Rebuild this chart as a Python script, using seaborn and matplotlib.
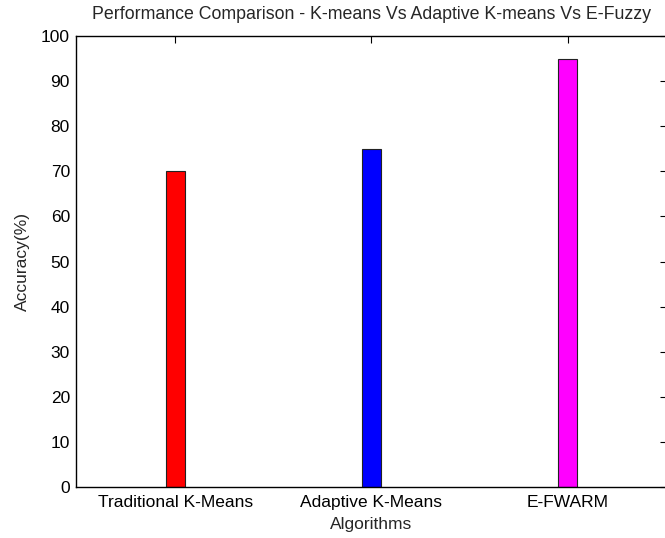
import matplotlib
matplotlib.use("Agg")
import matplotlib.pyplot as plt
import seaborn as sns
import pandas as pd

algorithms = ["Traditional K-Means", "Adaptive K-Means", "E-FWARM"]
accuracy = [70, 75, 95]
bar_colors = ["#ff0000", "#0000ff", "#ff00ff"]
y_ticks = [0, 10, 20, 30, 40, 50, 60, 70, 80, 90, 100]

sns.set_style("white")
plt.rcParams["font.family"] = ["Liberation Sans", "DejaVu Sans"]

df = pd.DataFrame({"Algorithm": algorithms, "Accuracy": accuracy})

W, H = 665, 538
fig = plt.figure(figsize=(W / 100, H / 100), dpi=100)
left, right, top, bottom = 75.5, 666.5, 36, 487
ax = fig.add_axes([left / W, 1 - bottom / H, (right - left) / W, (bottom - top) / H])

sns.barplot(data=df, x="Algorithm", y="Accuracy", hue="Algorithm",
            palette=bar_colors, width=0.1, edgecolor="#222222",
            linewidth=0.8, legend=False, ax=ax, saturation=1)

ax.set_xlim(-0.51, 2.505)
ax.set_ylim(0, 100)
ax.set_yticks(y_ticks)
ax.tick_params(axis="both", direction="in", length=5, width=0.8,
               labelsize=12.5, top=True, right=True, colors="black")
ax.tick_params(axis="x", pad=6)
ax.tick_params(axis="y", pad=4)
for side in ["left", "right", "top", "bottom"]:
    ax.spines[side].set_visible(True)
    ax.spines[side].set_color("black")
    ax.spines[side].set_linewidth(1.0)

ax.set_xlabel("Algorithms", fontsize=12.5, labelpad=5)
ax.set_ylabel("Accuracy(%)", fontsize=12.5, labelpad=8)
ax.set_title("Performance Comparison - K-means Vs Adaptive K-means Vs E-Fuzzy",
             fontsize=12.8, pad=12)

fig.savefig("out.png", dpi=100)
